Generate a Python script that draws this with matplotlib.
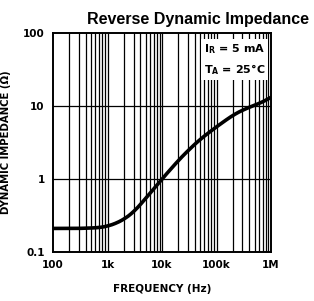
import matplotlib
matplotlib.use("Agg")
import matplotlib.pyplot as plt
import numpy as np

freq_hz = [100, 300, 700, 1000, 1500, 2000, 3000, 5000, 10000, 20000, 30000, 50000,
           100000, 200000, 300000, 500000, 700000, 1000000]
impedance_ohm = [0.21, 0.21, 0.215, 0.225, 0.25, 0.28, 0.35, 0.54, 1.0, 1.8, 2.45, 3.5,
                 5.2, 7.5, 8.8, 10.3, 11.3, 13.2]
x_ticks = [100, 1000, 10000, 100000, 1000000]
x_labels = ["100", "1k", "10k", "100k", "1M"]
y_ticks = [0.1, 1, 10, 100]
y_labels = ["0.1", "1", "10", "100"]

plt.rcParams['font.family'] = ['DejaVu Sans']

fig = plt.figure(figsize=(3.14, 3.01), dpi=100)
ax = fig.add_axes([0.169, 0.163, 0.694, 0.727])
ax.set_xscale('log')
ax.set_yscale('log')
ax.set_xlim(100, 1e6)
ax.set_ylim(0.1, 100)

# smooth curve through read points in log space
lx = np.log10(freq_hz)
ly = np.log10(impedance_ohm)
xs = np.linspace(lx[0], lx[-1], 400)
ys = np.interp(xs, lx, ly)
n = 25
k = np.ones(n) / n
ys_s = np.convolve(np.pad(ys, n // 2, mode='reflect', reflect_type='odd'), k, mode='valid')
ax.plot(10**xs, 10**ys_s, color='black', lw=2.6, zorder=3, solid_capstyle='butt')

# grid
for d in range(2, 6):
    for m in range(1, 10):
        v = m * 10**d
        if 100 < v < 1e6:
            ax.axvline(v, color='black', lw=0.9, zorder=1)
for v in [1, 10]:
    ax.axhline(v, color='black', lw=0.9, zorder=1)

ax.set_xticks(x_ticks)
ax.set_xticklabels(x_labels, fontsize=7.5, fontweight='bold')
ax.set_yticks(y_ticks)
ax.set_yticklabels(y_labels, fontsize=7.5, fontweight='bold')
ax.minorticks_off()
ax.tick_params(length=0, pad=6)
for s in ax.spines.values():
    s.set_linewidth(1.4)

ax.set_xlabel("FREQUENCY (Hz)", fontsize=7.5, fontweight='bold', labelpad=10)
ax.set_ylabel("DYNAMIC IMPEDANCE (Ω)", fontsize=7.3, fontweight='bold')
ax.yaxis.set_label_coords(-0.195, 0.5)
fig.text(0.63, 0.935, "Reverse Dynamic Impedance", ha='center', va='center',
         fontsize=11.5, fontweight='bold', family=['Liberation Sans', 'DejaVu Sans'])

ax.text(0.975, 0.96, "I$_\\mathregular{R}$ = 5 mA\nT$_\\mathregular{A}$ = 25°C",
        transform=ax.transAxes, ha='right', va='top', fontsize=8, fontweight='bold',
        linespacing=1.6,
        bbox=dict(facecolor='white', edgecolor='none', pad=2), zorder=4)

fig.savefig("out.png", dpi=100)
